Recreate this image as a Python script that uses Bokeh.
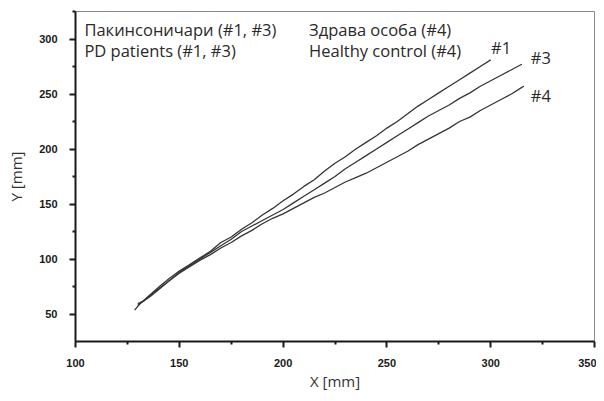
from bokeh.plotting import figure
from bokeh.models import Label, FixedTicker, Range1d
from bokeh.embed import file_html
from bokeh.resources import INLINE

# ---- data ----
x1 = [128.5, 130, 132, 135, 138, 141, 145, 150, 155, 160, 165, 170, 175, 180, 185, 190,
      195, 200, 205, 210, 215, 220, 225, 230, 235, 240, 245, 250, 255, 260, 265, 270,
      275, 280, 285, 290, 295, 300]
y1 = [53.5, 57, 61, 66, 71, 76, 82, 89, 95, 101, 107, 115, 120, 127, 133, 140,
      146, 153, 159, 166, 172, 180, 187, 193, 200, 206, 212, 219, 225, 232, 239, 245,
      251, 257, 263, 269, 275, 281]

x3 = [130, 133, 136, 140, 145, 150, 155, 160, 165, 170, 175, 180, 185, 190, 195, 200,
      205, 210, 215, 220, 225, 230, 235, 240, 245, 250, 255, 260, 265, 270, 275, 280,
      285, 290, 295, 300, 305, 310, 315]
y3 = [59.5, 62, 66, 72, 80, 88, 94, 100, 106, 112, 118, 125, 130, 135, 140, 145,
      151, 157, 163, 169, 175, 182, 188, 194, 200, 206, 212, 218, 224, 230, 235, 240,
      246, 251, 257, 262, 267, 272, 277]

x4 = [130, 133, 136, 140, 145, 150, 155, 160, 165, 170, 175, 180, 185, 190, 195, 200,
      205, 210, 215, 220, 225, 230, 235, 240, 245, 250, 255, 260, 265, 270, 275, 280,
      285, 290, 295, 300, 305, 310, 315, 316]
y4 = [58, 62, 67, 73, 80, 87, 93, 99, 104, 110, 115, 121, 126, 132, 137, 141,
      146, 151, 156, 160, 165, 170, 174, 178, 183, 188, 193, 198, 204, 209, 214, 219,
      225, 229, 235, 240, 245, 250, 256, 257]

x_ticks = [100, 150, 200, 250, 300, 350]
y_ticks = [50, 100, 150, 200, 250, 300]
x_minor = [125, 175, 225, 275, 325]
y_minor = [75, 125, 175, 225, 275, 325]

curve_labels = ["#1", "#3", "#4"]
legend_lines = ["Пакинсоничари (#1, #3)", "PD patients (#1, #3)",
                "Здрава особа (#4)", "Healthy control (#4)"]

# ---- figure ----
p = figure(width=596, height=393, output_backend="svg", toolbar_location=None,
           x_range=Range1d(100, 350), y_range=Range1d(25, 325),
           min_border_left=75, min_border_right=2, min_border_top=11, min_border_bottom=44)
p.grid.visible = False
p.background_fill_color = "white"
p.border_fill_color = "white"
p.outline_line_color = "#8a8a8a"
p.outline_line_width = 1

for ax, ticks, minor in ((p.xaxis[0], x_ticks, x_minor), (p.yaxis[0], y_ticks, y_minor)):
    ax.ticker = FixedTicker(ticks=ticks, minor_ticks=minor)
    ax.axis_line_width = 2
    ax.axis_line_color = "#1a1a1a"
    ax.major_tick_line_color = "#1a1a1a"
    ax.major_tick_line_width = 2
    ax.major_tick_out = 6
    ax.major_tick_in = 0
    ax.minor_tick_line_color = "#1a1a1a"
    ax.minor_tick_line_width = 2
    ax.minor_tick_out = 3
    ax.minor_tick_in = 0
    ax.major_label_text_font = "Liberation Sans"
    ax.major_label_text_font_style = "bold"
    ax.major_label_text_font_size = "11px"
    ax.major_label_text_color = "#1a1a1a"
    ax.axis_label_text_font = "Open Sans"
    ax.axis_label_text_font_style = "normal"
    ax.axis_label_text_font_size = "15px"
    ax.axis_label_text_color = "#333333"

p.xaxis.axis_label = "X [mm]"
p.yaxis.axis_label = "Y [mm]"
p.xaxis.major_label_standoff = 11
p.xaxis.axis_label_standoff = 1
p.yaxis.major_label_standoff = 12
p.yaxis.axis_label_standoff = 10

line_color = "#353535"
p.line(x1, y1, line_color=line_color, line_width=1.3)
p.line(x3, y3, line_color=line_color, line_width=1.3)
p.line(x4, y4, line_color=line_color, line_width=1.3)

txt = dict(text_font="Open Sans", text_font_size="16.5px", text_color="#2a2a2a",
           text_baseline="middle")
p.add_layout(Label(x=104.3, y=308.5, text=legend_lines[0], **txt))
p.add_layout(Label(x=104.3, y=290, text=legend_lines[1], **txt))
p.add_layout(Label(x=212.5, y=308.5, text=legend_lines[2], **txt))
p.add_layout(Label(x=212.5, y=290, text=legend_lines[3], **txt))
p.add_layout(Label(x=300.2, y=292.7, text=curve_labels[0], **txt))
p.add_layout(Label(x=319.3, y=283, text=curve_labels[1], **txt))
p.add_layout(Label(x=319.3, y=248.4, text=curve_labels[2], **txt))

open("out.html", "w").write(file_html(p, INLINE))
